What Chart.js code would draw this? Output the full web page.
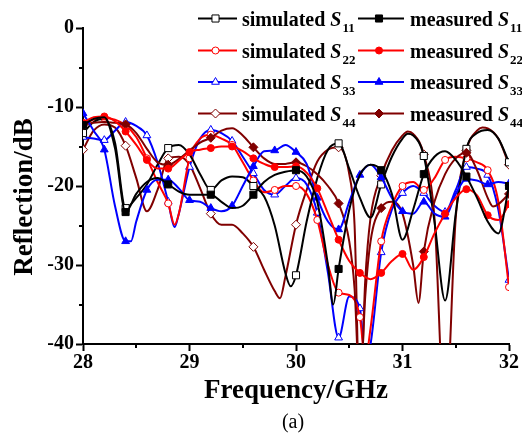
<!DOCTYPE html>
<html>
<head>
<meta charset="utf-8">
<script src="https://cdn.jsdelivr.net/npm/chart.js@4.4.1/dist/chart.umd.min.js"></script>
<style>
  html, body { margin: 0; padding: 0; background: #fff; }
  #wrap { width: 522px; height: 440px; }
</style>
</head>
<body>
<div id="wrap"><canvas id="chart" width="522" height="440"></canvas></div>
<script>
// Reflection curves, [frequency GHz, dB]
const simS11 = [[28.0,-13.3],[28.1,-11.9],[28.2,-11.5],[28.3,-14.5],[28.4,-22.8],[28.5,-21.5],[28.6,-19.8],[28.7,-17.3],[28.8,-15.2],[28.9,-14.8],[29.0,-16.0],[29.1,-18.5],[29.2,-20.5],[29.3,-19.3],[29.4,-18.8],[29.5,-18.9],[29.6,-20.0],[29.7,-21.3],[29.8,-25.0],[29.9,-31.0],[29.95,-32.7],[30.0,-31.3],[30.1,-24.5],[30.2,-19.0],[30.3,-15.4],[30.4,-14.6],[30.5,-17.8],[30.6,-21.5],[30.7,-24.0],[30.8,-19.8],[30.9,-16.3],[31.0,-14.0],[31.05,-13.4],[31.1,-13.6],[31.2,-16.2],[31.3,-24.5],[31.4,-34.5],[31.5,-23.5],[31.6,-15.3],[31.7,-13.3],[31.8,-12.9],[31.9,-14.0],[32.0,-17.0]];
const measS11 = [[28.0,-12.3],[28.1,-11.5],[28.2,-11.3],[28.3,-15.2],[28.4,-23.3],[28.5,-21.0],[28.6,-19.5],[28.7,-19.0],[28.8,-19.8],[28.9,-20.7],[29.0,-21.1],[29.1,-21.1],[29.2,-21.1],[29.3,-22.0],[29.4,-22.8],[29.5,-22.5],[29.6,-21.1],[29.7,-19.5],[29.8,-18.6],[29.9,-18.2],[30.0,-18.0],[30.1,-18.8],[30.2,-22.0],[30.3,-30.0],[30.35,-35.0],[30.4,-30.5],[30.5,-23.0],[30.6,-18.6],[30.7,-17.3],[30.8,-18.0],[30.9,-21.0],[31.0,-26.8],[31.1,-23.0],[31.2,-18.5],[31.3,-16.3],[31.4,-15.6],[31.5,-16.7],[31.6,-18.8],[31.7,-21.5],[31.8,-24.5],[31.9,-26.0],[32.0,-20.0]];
const simS22 = [[28.0,-12.3],[28.1,-11.6],[28.2,-11.4],[28.3,-11.6],[28.4,-12.3],[28.5,-13.8],[28.6,-16.5],[28.7,-19.5],[28.8,-22.2],[28.86,-24.9],[28.9,-23.5],[29.0,-16.5],[29.1,-14.0],[29.2,-13.5],[29.3,-14.0],[29.4,-14.8],[29.5,-17.0],[29.6,-19.3],[29.7,-20.8],[29.8,-20.5],[29.9,-20.0],[30.0,-20.0],[30.1,-21.0],[30.2,-24.3],[30.3,-30.0],[30.4,-33.5],[30.5,-33.8],[30.6,-36.6],[30.65,-42.0],[30.7,-38.0],[30.8,-27.0],[30.9,-22.5],[31.0,-20.0],[31.1,-19.5],[31.2,-20.5],[31.3,-19.0],[31.4,-16.7],[31.5,-16.3],[31.6,-16.5],[31.7,-17.0],[31.8,-18.0],[31.9,-22.0],[32.0,-32.8]];
const measS22 = [[28.0,-12.0],[28.1,-11.3],[28.2,-11.2],[28.3,-11.8],[28.4,-13.1],[28.5,-14.8],[28.6,-16.7],[28.7,-17.8],[28.8,-17.8],[28.9,-16.8],[29.0,-15.7],[29.1,-15.4],[29.2,-15.2],[29.3,-15.0],[29.4,-15.0],[29.5,-15.6],[29.6,-16.5],[29.7,-17.2],[29.8,-17.6],[29.9,-17.6],[30.0,-17.5],[30.1,-18.3],[30.2,-20.3],[30.3,-23.5],[30.4,-26.8],[30.5,-29.5],[30.6,-31.0],[30.7,-31.8],[30.8,-31.0],[30.9,-29.5],[31.0,-28.6],[31.1,-30.6],[31.2,-29.0],[31.3,-26.0],[31.4,-23.5],[31.5,-21.5],[31.6,-20.4],[31.7,-21.2],[31.8,-23.7],[31.9,-24.3],[32.0,-22.3]];
const simS33 = [[28.0,-13.8],[28.1,-14.0],[28.2,-14.2],[28.3,-13.0],[28.4,-11.9],[28.5,-12.4],[28.6,-13.6],[28.7,-17.0],[28.8,-22.0],[28.86,-25.2],[28.9,-23.5],[29.0,-17.6],[29.1,-14.0],[29.2,-12.9],[29.3,-13.3],[29.4,-14.3],[29.5,-16.3],[29.6,-18.4],[29.7,-20.5],[29.8,-21.1],[29.9,-20.0],[30.0,-19.0],[30.1,-19.8],[30.2,-23.4],[30.3,-31.0],[30.4,-39.2],[30.5,-34.0],[30.6,-35.5],[30.65,-42.0],[30.7,-40.0],[30.8,-28.4],[30.9,-23.0],[31.0,-20.9],[31.1,-20.0],[31.2,-20.9],[31.3,-22.5],[31.4,-23.3],[31.5,-20.5],[31.6,-17.6],[31.7,-17.8],[31.8,-18.6],[31.9,-23.0],[32.0,-31.9]];
const measS33 = [[28.0,-10.8],[28.1,-13.0],[28.2,-15.4],[28.3,-22.5],[28.4,-27.0],[28.45,-27.0],[28.5,-24.5],[28.6,-20.5],[28.7,-19.2],[28.8,-19.2],[28.9,-20.3],[29.0,-21.8],[29.1,-22.0],[29.2,-22.8],[29.3,-23.2],[29.4,-22.5],[29.5,-20.0],[29.6,-17.5],[29.7,-15.6],[29.8,-15.5],[29.9,-14.8],[30.0,-15.7],[30.1,-17.2],[30.2,-21.5],[30.3,-24.5],[30.4,-25.5],[30.5,-22.0],[30.6,-18.6],[30.7,-17.3],[30.8,-18.9],[30.9,-21.5],[31.0,-23.2],[31.1,-23.5],[31.2,-22.0],[31.3,-23.5],[31.4,-23.9],[31.5,-21.0],[31.6,-19.1],[31.7,-19.3],[31.8,-19.8],[31.9,-19.5],[32.0,-19.7]];
const simS44 = [[28.0,-15.4],[28.1,-13.0],[28.2,-12.2],[28.3,-12.6],[28.4,-14.9],[28.5,-19.0],[28.6,-23.2],[28.7,-20.5],[28.8,-16.5],[28.9,-16.3],[29.0,-17.3],[29.1,-20.3],[29.2,-23.5],[29.3,-24.9],[29.4,-24.9],[29.5,-26.0],[29.6,-27.7],[29.7,-30.6],[29.8,-33.3],[29.85,-34.2],[29.9,-31.5],[30.0,-24.9],[30.1,-20.5],[30.2,-16.9],[30.3,-15.4],[30.4,-15.1],[30.5,-18.5],[30.55,-25.0],[30.6,-48.0],[30.65,-32.0],[30.7,-24.0],[30.8,-18.7],[30.9,-15.5],[31.0,-13.6],[31.05,-13.1],[31.1,-13.4],[31.2,-16.0],[31.3,-24.0],[31.4,-50.0],[31.5,-24.0],[31.6,-15.5],[31.7,-13.0],[31.75,-12.6],[31.8,-12.7],[31.9,-14.0],[32.0,-17.3]];
const measS44 = [[28.0,-12.3],[28.1,-12.0],[28.2,-11.9],[28.3,-12.0],[28.4,-12.2],[28.5,-13.3],[28.6,-15.3],[28.7,-17.0],[28.8,-17.3],[28.9,-16.6],[29.0,-15.5],[29.1,-14.5],[29.2,-13.9],[29.3,-13.0],[29.4,-12.7],[29.5,-13.6],[29.6,-15.1],[29.7,-16.5],[29.8,-17.2],[29.9,-17.2],[30.0,-17.0],[30.1,-17.5],[30.2,-18.5],[30.3,-20.0],[30.4,-22.2],[30.5,-27.0],[30.55,-33.0],[30.6,-46.0],[30.65,-34.0],[30.7,-27.0],[30.8,-22.8],[30.9,-22.0],[31.0,-23.5],[31.1,-30.0],[31.15,-34.8],[31.2,-28.3],[31.3,-22.0],[31.4,-18.5],[31.5,-16.5],[31.6,-15.8],[31.7,-18.0],[31.8,-21.5],[31.85,-22.6],[31.9,-22.3],[32.0,-21.0]];

const xTicks = [28, 29, 30, 31, 32];
const yTicks = [0, -10, -20, -30, -40];
const xTitle = 'Frequency/GHz';
const yTitle = 'Reflection/dB';
const caption = '(a)';
const kindNames = ['simulated', 'measured'];
const portNames = ['11', '22', '33', '44'];

const SERIF = '"Liberation Serif", "Times New Roman", Times, serif';
Chart.defaults.font.family = SERIF;

// kind 0 = simulated (open marker), kind 1 = measured (filled marker)
const series = [
  { data: measS11, kind: 1, port: 0, color: '#000000', style: 'rect',     radius: 5,   every: 0.4 },
  { data: measS22, kind: 1, port: 1, color: '#ff0000', style: 'circle',   radius: 3.5, every: 0.2 },
  { data: measS33, kind: 1, port: 2, color: '#0000ff', style: 'triangle', radius: 4.5, every: 0.2 },
  { data: measS44, kind: 1, port: 3, color: '#800000', style: 'rectRot',  radius: 4.5, every: 0.4 },
  { data: simS11,  kind: 0, port: 0, color: '#000000', style: 'rect',     radius: 5,   every: 0.4 },
  { data: simS22,  kind: 0, port: 1, color: '#ff0000', style: 'circle',   radius: 3.5, every: 0.2 },
  { data: simS33,  kind: 0, port: 2, color: '#0000ff', style: 'triangle', radius: 4.5, every: 0.2 },
  { data: simS44,  kind: 0, port: 3, color: '#800000', style: 'rectRot',  radius: 4.5, every: 0.4 }
];

function onGrid(x, step) {
  if (x === undefined) return false;
  const k = (x - xTicks[0]) / step;
  return Math.abs(k - Math.round(k)) < 1e-6;
}

function midpoints(arr) {
  const out = [];
  for (let i = 0; i < arr.length - 1; i++) out.push((arr[i] + arr[i + 1]) / 2);
  return out;
}

const datasets = series.map(s => ({
  label: kindNames[s.kind] + ' S' + portNames[s.port],
  data: s.data.map(([x, y]) => ({ x, y })),
  borderColor: s.color,
  borderWidth: 2,
  backgroundColor: s.color,
  pointStyle: s.style,
  pointBackgroundColor: s.kind === 0 ? '#ffffff' : s.color,
  pointBorderColor: s.color,
  pointBorderWidth: 1,
  pointRadius: ctx => onGrid(ctx.raw && ctx.raw.x, s.every) ? s.radius : 0,
  cubicInterpolationMode: 'monotone',
  fill: false
}));

function drawMarker(ctx, s, x, y) {
  ctx.fillStyle = s.kind === 0 ? '#ffffff' : s.color;
  ctx.strokeStyle = s.color;
  ctx.lineWidth = 1;
  if (Chart.helpers && Chart.helpers.drawPoint) {
    Chart.helpers.drawPoint(ctx, { pointStyle: s.style, radius: s.radius, borderWidth: 1, rotation: 0 }, x, y);
  } else {
    ctx.beginPath(); ctx.arc(x, y, s.radius, 0, Math.PI * 2); ctx.fill(); ctx.stroke();
  }
}

const decor = {
  id: 'decor',
  afterDraw(chart) {
    const { ctx, chartArea: a, scales: { x, y } } = chart;
    ctx.save();

    // minor ticks
    ctx.strokeStyle = '#000';
    ctx.lineWidth = 2;
    midpoints(xTicks).forEach(v => {
      const px = Math.round(x.getPixelForValue(v));
      ctx.beginPath(); ctx.moveTo(px, a.bottom); ctx.lineTo(px, a.bottom + 4); ctx.stroke();
    });
    midpoints(yTicks).forEach(v => {
      const py = Math.round(y.getPixelForValue(v));
      ctx.beginPath(); ctx.moveTo(a.left, py); ctx.lineTo(a.left - 4, py); ctx.stroke();
    });

    // axis titles and caption
    ctx.fillStyle = '#000';
    ctx.font = 'bold 27px ' + SERIF;
    ctx.textAlign = 'center';
    ctx.textBaseline = 'alphabetic';
    ctx.fillText(xTitle, (a.left + a.right) / 2, 398);
    ctx.save();
    ctx.translate(32, 197);
    ctx.rotate(-Math.PI / 2);
    ctx.fillText(yTitle, 0, 0);
    ctx.restore();
    ctx.font = '20px ' + SERIF;
    ctx.fillText(caption, 293, 428);

    // legend, two columns (simulated | measured), one row per port
    const rowY = [18.5, 50.5, 82, 113.5];
    const lineX = [[198, 237], [358, 404]];
    const textX = [242, 410];
    series.forEach(s => {
      const ly = rowY[s.port];
      const [x0, x1] = lineX[s.kind];
      ctx.strokeStyle = s.color;
      ctx.lineWidth = 2;
      ctx.beginPath(); ctx.moveTo(x0, ly); ctx.lineTo(x1, ly); ctx.stroke();
      drawMarker(ctx, s, (x0 + x1) / 2 - 2, ly);

      ctx.fillStyle = '#000';
      ctx.textAlign = 'left';
      ctx.textBaseline = 'alphabetic';
      let tx = textX[s.kind];
      ctx.font = 'bold 20px ' + SERIF;
      const word = kindNames[s.kind] + ' ';
      ctx.fillText(word, tx, ly + 7);
      tx += ctx.measureText(word).width;
      ctx.font = 'italic bold 20px ' + SERIF;
      ctx.fillText('S', tx, ly + 7);
      tx += ctx.measureText('S').width + 1;
      ctx.font = 'bold 13px ' + SERIF;
      ctx.fillText(portNames[s.port], tx, ly + 13);
    });

    ctx.restore();
  }
};

new Chart(document.getElementById('chart'), {
  type: 'line',
  data: { datasets },
  options: {
    responsive: false,
    devicePixelRatio: 1,
    animation: false,
    events: [],
    layout: { padding: { top: 28, right: 13, left: 0, bottom: 0 } },
    plugins: { legend: { display: false }, tooltip: { enabled: false } },
    scales: {
      x: {
        type: 'linear',
        min: xTicks[0],
        max: xTicks[xTicks.length - 1],
        afterBuildTicks: sc => { sc.ticks = xTicks.map(v => ({ value: v })); },
        afterFit: sc => { sc.height = 96; },
        ticks: { color: '#000', padding: 0, font: { size: 20, weight: 'bold' } },
        grid: { drawOnChartArea: false, drawTicks: true, tickLength: 7, tickWidth: 2, tickColor: '#000' },
        border: { display: true, color: '#000', width: 2 }
      },
      y: {
        type: 'linear',
        min: yTicks[yTicks.length - 1],
        max: yTicks[0],
        afterBuildTicks: sc => { sc.ticks = yTicks.map(v => ({ value: v })); },
        afterFit: sc => { sc.width = 83; },
        ticks: { color: '#000', padding: 2, font: { size: 20, weight: 'bold' } },
        grid: { drawOnChartArea: false, drawTicks: true, tickLength: 7, tickWidth: 2, tickColor: '#000' },
        border: { display: true, color: '#000', width: 2 }
      }
    }
  },
  plugins: [decor]
});
</script>
</body>
</html>
